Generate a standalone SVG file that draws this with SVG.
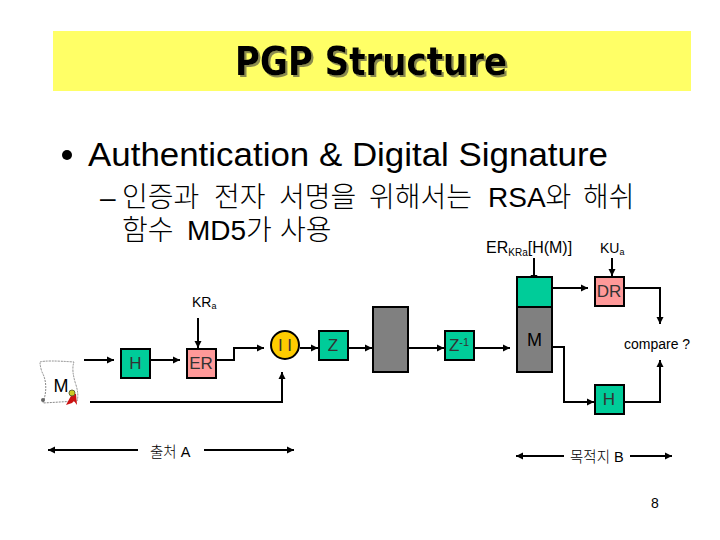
<svg xmlns="http://www.w3.org/2000/svg" width="720" height="540" viewBox="0 0 720 540">
<style>
text{font-family:"Liberation Sans","Noto Sans CJK KR",sans-serif;fill:#000}
.k{font-family:"Liberation Sans","Noto Sans CJK KR",sans-serif;font-weight:300}
.box{stroke:#000;stroke-width:2}
.g{fill:#00cc99}.p{fill:#ff9999}.d{fill:#808080}
.c{fill:none;stroke:#000;stroke-width:2}
.lb{font-size:17px;fill:#333}
.t{font-family:"DejaVu Sans","Liberation Sans",sans-serif;font-weight:bold;font-size:39px}
</style>
<defs>
<marker id="a" markerUnits="userSpaceOnUse" markerWidth="9" markerHeight="9" refX="7" refY="4.500" orient="auto-start-reverse"><path d="M0 1 L7 4.500 L0 8 Z" fill="#000"/></marker>
<filter id="sh" x="-5%" y="-20%" width="110%" height="140%"><feDropShadow dx="2" dy="2" stdDeviation="0.600" flood-color="#8a8a50"/></filter>
</defs>
<rect width="720" height="540" fill="#fff"/>
<g id="title">
<rect x="53" y="31" width="638" height="60" fill="#ffff66"/>
<text class="t" x="235" y="75" textLength="272" lengthAdjust="spacingAndGlyphs" filter="url(#sh)">PGP Structure</text>
</g>
<g id="bullets">
<circle cx="67" cy="155" r="5" fill="#000"/>
<text x="88" y="166" font-size="33.500" textLength="520" lengthAdjust="spacingAndGlyphs">Authentication &amp; Digital Signature</text>
<text x="100" y="207" font-size="28">–</text>
<text class="k" y="207" font-size="28"><tspan x="122">인증과</tspan><tspan x="214">전자</tspan><tspan x="279">서명을</tspan><tspan x="369">위해서는</tspan><tspan x="488">RSA와</tspan><tspan x="583">해쉬</tspan></text>
<text class="k" y="240" font-size="28"><tspan x="122">함수</tspan><tspan x="187">MD5가</tspan><tspan x="280">사용</tspan></text>
</g>
<g id="connectors">
<path class="c" d="M84 360H114" marker-end="url(#a)"/>
<path class="c" d="M150 360H180" marker-end="url(#a)"/>
<path class="c" d="M198 318V348" marker-end="url(#a)"/>
<path class="c" d="M216 360H234V348H264" marker-end="url(#a)"/>
<path class="c" d="M90 402H282V372" marker-end="url(#a)"/>
<path class="c" d="M300 348H318" marker-end="url(#a)"/>
<path class="c" d="M348 348H372" marker-end="url(#a)"/>
<path class="c" d="M408 348H444" marker-end="url(#a)"/>
<path class="c" d="M474 348H510" marker-end="url(#a)"/>
<path class="c" d="M534 258V282" marker-end="url(#a)"/>
<path class="c" d="M552 288H588" marker-end="url(#a)"/>
<path class="c" d="M612 258V276" marker-end="url(#a)"/>
<path class="c" d="M624 288H660V324" marker-end="url(#a)"/>
<path class="c" d="M552 347H564V402H594" marker-end="url(#a)"/>
<path class="c" d="M624 402H660V360" marker-end="url(#a)"/>
<path class="c" d="M138 450H48" marker-end="url(#a)"/>
<path class="c" d="M204 450H294" marker-end="url(#a)"/>
<path class="c" d="M564 456H516" marker-end="url(#a)"/>
<path class="c" d="M630 456H672" marker-end="url(#a)"/>
</g>
<g id="msg">
<path d="M40 362Q46 360 74 362Q71 370 76 385Q79 395 77 401L43 403Q49 385 42 372Q40 366 40 362Z" fill="#fff" stroke="#888" stroke-width="1" stroke-dasharray="2 1"/>
<circle cx="43" cy="400" r="2" fill="#666"/>
<path d="M72 394L66 405L72 403L74 401L77 405L76 394Z" fill="#cc1111"/>
<circle cx="72" cy="393" r="3" fill="#cccc22" stroke="#663"/>
<text x="61" y="392" font-size="18" text-anchor="middle" textLength="15" lengthAdjust="spacingAndGlyphs">M</text>
</g>
<g id="h1"><rect class="box g" x="121" y="349" width="29" height="29"/><text class="lb" x="135.500" y="369" text-anchor="middle">H</text></g>
<g id="er"><rect class="box p" x="187" y="349" width="29" height="29"/><text class="lb" x="201" y="369" text-anchor="middle">ER</text></g>
<g id="kra"><text x="192" y="307" font-size="14">KR<tspan font-size="9" dy="2">a</tspan></text></g>
<g id="concat"><circle class="box" cx="285" cy="345" r="14" fill="#ffcc00"/><text class="lb" x="285" y="351" text-anchor="middle">I I</text></g>
<g id="z"><rect class="box g" x="319" y="331" width="29" height="29"/><text class="lb" x="333" y="351" text-anchor="middle">Z</text></g>
<g id="gray"><rect class="box d" x="373" y="307" width="35" height="65"/></g>
<g id="zinv"><rect class="box g" x="445" y="331" width="29" height="29"/><text class="lb" x="459" y="351" text-anchor="middle">Z<tspan font-size="11" dy="-5">-1</tspan></text></g>
<g id="sig"><rect class="box g" x="517" y="277" width="35" height="30"/></g>
<g id="m2"><rect class="box d" x="517" y="307" width="35" height="65"/><text x="534.500" y="346" font-size="18" text-anchor="middle">M</text></g>
<g id="dr"><rect class="box p" x="595" y="277" width="29" height="29"/><text class="lb" x="609" y="297" text-anchor="middle">DR</text></g>
<g id="h2"><rect class="box g" x="595" y="385" width="29" height="29"/><text class="lb" x="609" y="405" text-anchor="middle">H</text></g>
<g id="labels">
<text x="486" y="253" font-size="16">ER<tspan font-size="10" dy="3">KRa</tspan><tspan dy="-3">[H(M)]</tspan></text>
<text x="600" y="253" font-size="14">KU<tspan font-size="9" dy="2">a</tspan></text>
<text x="624" y="349" font-size="14">compare ?</text>
<text class="k" x="150" y="457" font-size="14.500">출처 A</text>
<text class="k" x="570" y="462" font-size="14.500">목적지 B</text>
<text x="655" y="508" font-size="14" text-anchor="middle">8</text>
</g>
</svg>
